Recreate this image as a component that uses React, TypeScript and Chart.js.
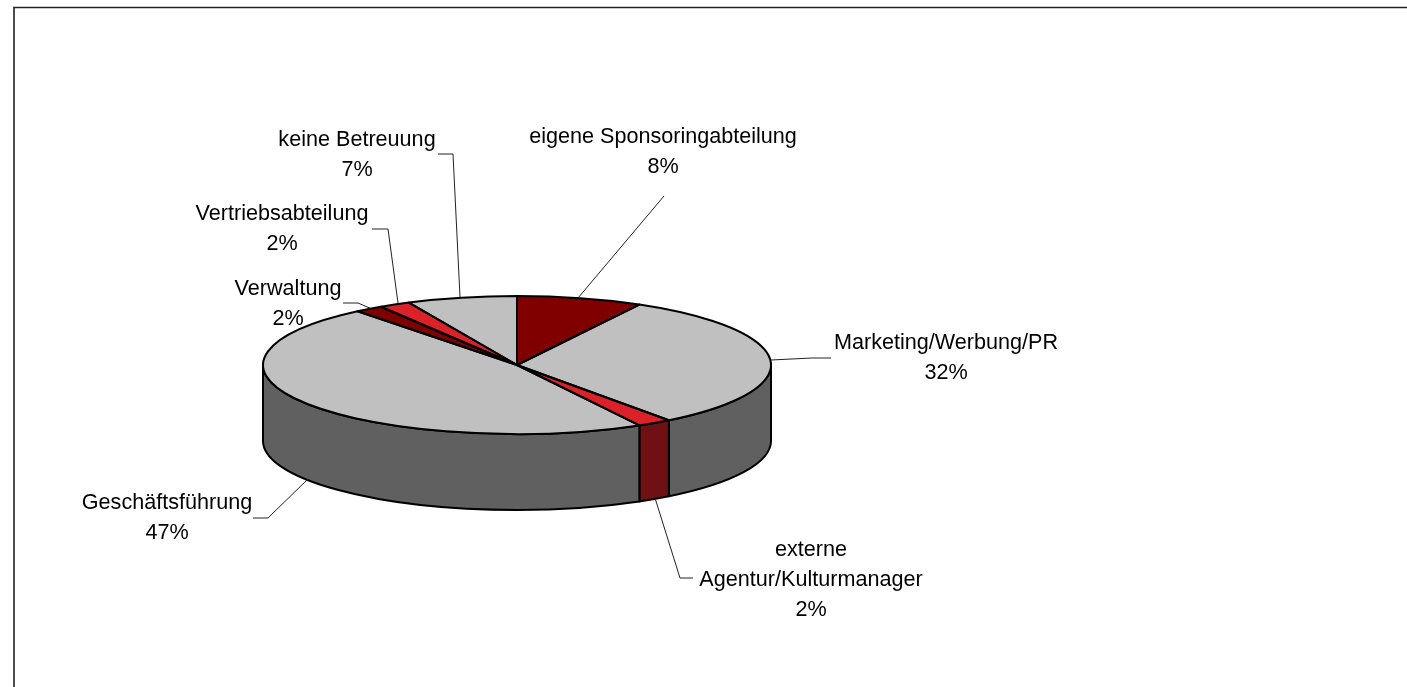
import React, { useEffect, useRef } from "react";
import { Chart, registerables } from "chart.js";

Chart.register(...registerables);

const categories = [
  "eigene Sponsoringabteilung",
  "Marketing/Werbung/PR",
  "externe Agentur/Kulturmanager",
  "Geschäftsführung",
  "Verwaltung",
  "Vertriebsabteilung",
  "keine Betreuung",
];
const values = [8, 31.8, 2.2, 47.2, 1.8, 2, 7];
const faceColors = ["#800000", "#C0C0C0", "#DC2128", "#C0C0C0", "#800000", "#DC2128", "#C0C0C0"];
const sideColors = ["#400000", "#606060", "#6E1014", "#606060", "#400000", "#6E1014", "#606060"];

const labelLines = [
  ["eigene Sponsoringabteilung"],
  ["Marketing/Werbung/PR"],
  ["externe", "Agentur/Kulturmanager"],
  ["Geschäftsführung"],
  ["Verwaltung"],
  ["Vertriebsabteilung"],
  ["keine Betreuung"],
];
// label centre x, first line middle y
const labelPos = [
  [663, 137],
  [946, 343],
  [811, 550],
  [167, 503],
  [288, 289],
  [282, 214],
  [357, 140],
];
const leaders = [
  [[664, 196], [578, 298]],
  [[831, 358], [812, 358], [771, 360]],
  [[693, 578], [680, 578], [655, 498]],
  [[253, 518], [268, 518], [308, 479]],
  [[343, 303], [358, 303], [372, 309]],
  [[372, 229], [388, 229], [398, 303]],
  [[438, 154], [453, 154], [460, 297]],
];

const W = 1407;
const H = 687;
const CX = 517;
const CY = 365;
const RX = 254;
const RY = 69;
const DEPTH = 76;
const SQUASH = RY / RX;

const piePlugin = {
  id: "flatPie",
  beforeDatasetsDraw(chart: any) {
    const ctx = chart.ctx;
    const arcs = chart.getDatasetMeta(0).data;
    ctx.save();
    ctx.strokeStyle = "#000";
    ctx.lineWidth = 2;
    ctx.lineJoin = "round";
    arcs.forEach((a: any, i: number) => {
      const lo = Math.max(a.startAngle, 0);
      const hi = Math.min(a.endAngle, Math.PI);
      if (hi <= lo) return;
      const r = a.outerRadius;
      const ry = r * SQUASH;
      ctx.beginPath();
      ctx.ellipse(a.x, a.y, r, ry, 0, lo, hi, false);
      ctx.ellipse(a.x, a.y + DEPTH, r, ry, 0, hi, lo, true);
      ctx.closePath();
      ctx.fillStyle = sideColors[i];
      ctx.fill();
      ctx.stroke();
    });
    ctx.restore();
    ctx.save();
    ctx.translate(0, CY);
    ctx.scale(1, SQUASH);
    ctx.translate(0, -CY);
  },
  afterDatasetsDraw(chart: any) {
    const ctx = chart.ctx;
    ctx.restore();
    const arcs = chart.getDatasetMeta(0).data;
    ctx.save();
    ctx.strokeStyle = "#000";
    ctx.lineWidth = 2;
    ctx.lineJoin = "round";
    arcs.forEach((a: any) => {
      const r = a.outerRadius;
      const ry = r * SQUASH;
      ctx.beginPath();
      ctx.moveTo(a.x, a.y);
      ctx.ellipse(a.x, a.y, r, ry, 0, a.startAngle, a.endAngle, false);
      ctx.closePath();
      ctx.stroke();
    });
    ctx.restore();

    // leader lines
    ctx.save();
    ctx.strokeStyle = "#222";
    ctx.lineWidth = 1;
    leaders.forEach((pts) => {
      ctx.beginPath();
      pts.forEach(([x, y], k) => (k ? ctx.lineTo(x, y) : ctx.moveTo(x, y)));
      ctx.stroke();
    });
    ctx.restore();

    // data labels
    ctx.save();
    ctx.fillStyle = "#000";
    ctx.font = '21.6px "Liberation Sans", Arial, sans-serif';
    ctx.textAlign = "center";
    ctx.textBaseline = "middle";
    categories.forEach((_, i) => {
      const [x, y] = labelPos[i];
      const lines = [...labelLines[i], `${Math.round(values[i])}%`];
      lines.forEach((ln, k) => ctx.fillText(ln, x, y + k * 30));
    });
    ctx.restore();
  },
  beforeDraw(chart: any) {
    const ctx = chart.ctx;
    ctx.save();
    ctx.fillStyle = "#fff";
    ctx.fillRect(0, 0, W, H);
    ctx.strokeStyle = "#222";
    ctx.lineWidth = 1.6;
    ctx.beginPath();
    ctx.moveTo(14, H);
    ctx.lineTo(14, 7.5);
    ctx.lineTo(W, 7.5);
    ctx.stroke();
    ctx.restore();
  },
};

export default function App() {
  const ref = useRef<HTMLCanvasElement>(null);
  useEffect(() => {
    document.body.style.margin = "0";
    const chart = new Chart(ref.current as HTMLCanvasElement, {
      type: "pie",
      data: {
        labels: categories,
        datasets: [
          {
            data: values,
            backgroundColor: faceColors,
            borderWidth: 0,
            hoverOffset: 0,
            clip: false,
          } as any,
        ],
      },
      options: {
        animation: false,
        responsive: false,
        rotation: 0,
        layout: {
          padding: { left: CX - RX, right: W - CX - RX, top: CY - RX, bottom: H - CY - RX },
        },
        plugins: { legend: { display: false }, tooltip: { enabled: false }, title: { display: false } },
      },
      plugins: [piePlugin],
    } as any);
    return () => chart.destroy();
  }, []);
  return <canvas ref={ref} width={W} height={H} style={{ display: "block", width: W, height: H }} />;
}
